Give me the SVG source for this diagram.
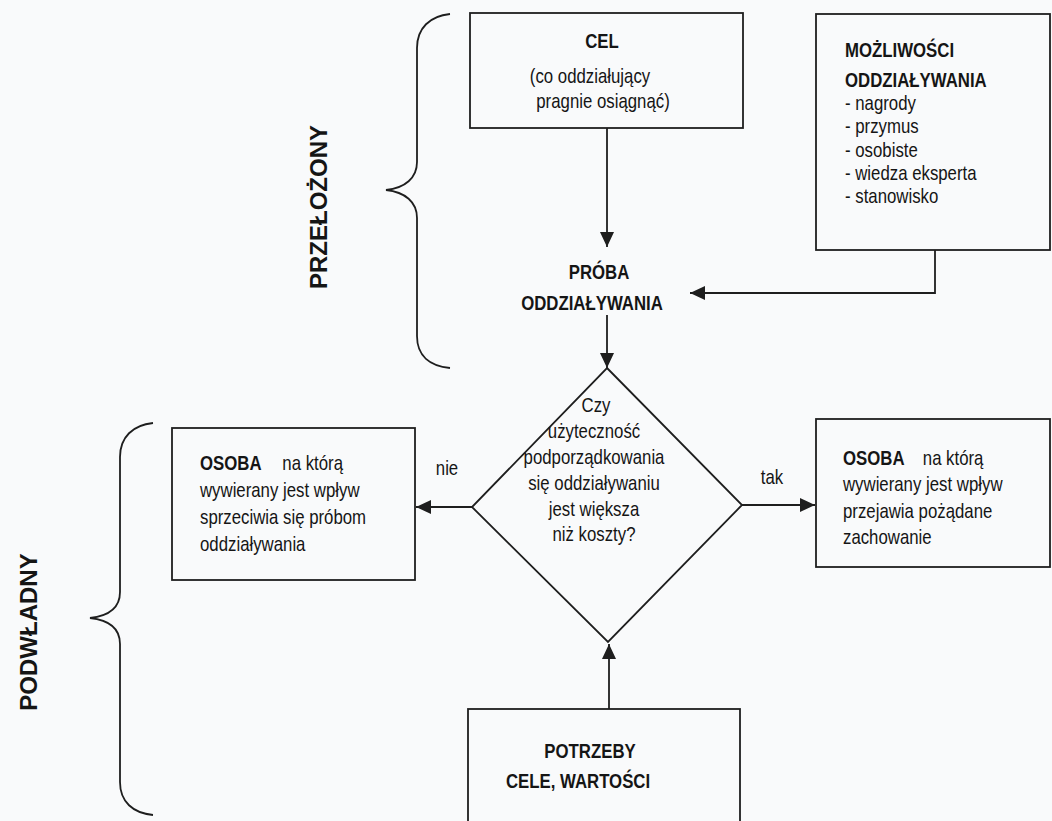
<svg xmlns="http://www.w3.org/2000/svg" width="1052" height="821" viewBox="0 0 1052 821">
  <style>
    .t { font-family: "Liberation Sans", Arial, sans-serif; font-size: 20px; fill: #151515; }
    .b { font-weight: bold; }
    .side { font-family: "Liberation Sans", Arial, sans-serif; font-size: 24px; font-weight: bold; fill: #151515; }
    .box { fill: none; stroke: #1e1e1e; stroke-width: 1.8; }
    .ln { fill: none; stroke: #1e1e1e; stroke-width: 1.8; }
    .mid { text-anchor: middle; }
  </style>
  <defs>
    <marker id="arrow" markerUnits="userSpaceOnUse" markerWidth="16" markerHeight="14" refX="15" refY="7" orient="auto">
      <path d="M0,0 L15,7 L0,14 z" fill="#1e1e1e"/>
    </marker>
  </defs>

  <rect width="1052" height="821" fill="#f9fafb"/>

  <!-- group labels with braces -->
  <g id="przelozony">
    <path class="ln" d="M450,14 C430,16 417,28 417,48 L417,162 C417,178 405,188 386,190 C405,192 417,202 417,218 L417,336 C417,356 430,366 450,368"/>
    <text class="side mid" transform="translate(327,207) rotate(-90)">PRZEŁOŻONY</text>
  </g>
  <g id="podwladny">
    <path class="ln" d="M153,423 C133,425 120,437 120,457 L120,592 C120,608 108,616 90,618 C108,620 120,628 120,644 L120,782 C120,802 133,813 153,815"/>
    <text class="side mid" transform="translate(37,632) rotate(-90)">PODWŁADNY</text>
  </g>

  <!-- nodes; body text is set condensed (x-scale 0.84) -->
  <g id="cel">
    <rect class="box" x="470" y="13" width="273" height="115"/>
    <text class="t b mid" transform="translate(602,48) scale(0.84,1)">CEL</text>
    <text class="t mid" transform="translate(590,83) scale(0.84,1)">(co oddziałujący</text>
    <text class="t mid" transform="translate(603,108) scale(0.84,1)">pragnie osiągnąć)</text>
  </g>

  <g id="mozliwosci">
    <rect class="box" x="816" y="14" width="234" height="236"/>
    <text class="t b" transform="translate(845,57) scale(0.84,1)">MOŻLIWOŚCI</text>
    <text class="t b" transform="translate(845,87) scale(0.84,1)">ODDZIAŁYWANIA</text>
    <text class="t" transform="translate(845,110) scale(0.84,1)">- nagrody</text>
    <text class="t" transform="translate(845,133) scale(0.84,1)">- przymus</text>
    <text class="t" transform="translate(845,157) scale(0.84,1)">- osobiste</text>
    <text class="t" transform="translate(845,180) scale(0.84,1)">- wiedza eksperta</text>
    <text class="t" transform="translate(845,203) scale(0.84,1)">- stanowisko</text>
  </g>

  <g id="proba">
    <text class="t b mid" transform="translate(599,279) scale(0.84,1)">PRÓBA</text>
    <text class="t b mid" transform="translate(592,310) scale(0.84,1)">ODDZIAŁYWANIA</text>
  </g>

  <g id="decyzja">
    <polygon class="box" points="607,368 742,505 608,642 472,507"/>
    <text class="t mid" transform="translate(596,412) scale(0.84,1)">Czy</text>
    <text class="t mid" transform="translate(594,438) scale(0.84,1)">użyteczność</text>
    <text class="t mid" transform="translate(594,464) scale(0.84,1)">podporządkowania</text>
    <text class="t mid" transform="translate(594,490) scale(0.84,1)">się oddziaływaniu</text>
    <text class="t mid" transform="translate(594,516) scale(0.84,1)">jest większa</text>
    <text class="t mid" transform="translate(594,541) scale(0.84,1)">niż koszty?</text>
  </g>

  <g id="sprzeciw">
    <rect class="box" x="172" y="428" width="243" height="152"/>
    <text class="t" transform="translate(200,470) scale(0.84,1)"><tspan class="b">OSOBA</tspan><tspan x="98">na którą</tspan></text>
    <text class="t" transform="translate(200,497) scale(0.84,1)">wywierany jest wpływ</text>
    <text class="t" transform="translate(200,524) scale(0.84,1)">sprzeciwia się próbom</text>
    <text class="t" transform="translate(200,551) scale(0.84,1)">oddziaływania</text>
  </g>

  <g id="uleglosc">
    <rect class="box" x="816" y="419" width="234" height="148"/>
    <text class="t" transform="translate(843,465) scale(0.84,1)"><tspan class="b">OSOBA</tspan><tspan x="95">na którą</tspan></text>
    <text class="t" transform="translate(843,491) scale(0.84,1)">wywierany jest wpływ</text>
    <text class="t" transform="translate(843,518) scale(0.84,1)">przejawia pożądane</text>
    <text class="t" transform="translate(843,544) scale(0.84,1)">zachowanie</text>
  </g>

  <g id="potrzeby">
    <rect class="box" x="468" y="709" width="272" height="130"/>
    <text class="t b mid" transform="translate(590,758) scale(0.84,1)">POTRZEBY</text>
    <text class="t b mid" transform="translate(578,788) scale(0.84,1)">CELE, WARTOŚCI</text>
  </g>

  <!-- connectors -->
  <g id="connectors">
    <path class="ln" d="M607,128 V247" marker-end="url(#arrow)"/>
    <path class="ln" d="M935,250 V293 H690" marker-end="url(#arrow)"/>
    <path class="ln" d="M607,315 V368" marker-end="url(#arrow)"/>
    <path class="ln" d="M472,507 H416" marker-end="url(#arrow)"/>
    <path class="ln" d="M742,505 H815" marker-end="url(#arrow)"/>
    <path class="ln" d="M609,709 V644" marker-end="url(#arrow)"/>
    <text class="t mid" transform="translate(447,475) scale(0.84,1)">nie</text>
    <text class="t mid" transform="translate(772,484) scale(0.84,1)">tak</text>
  </g>
</svg>
